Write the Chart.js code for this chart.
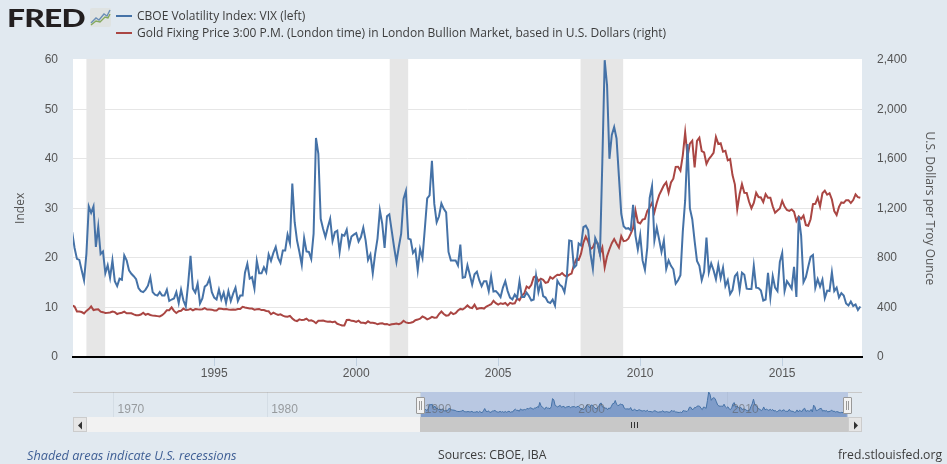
<!DOCTYPE html>
<html>
<head>
<meta charset="utf-8">
<title>CBOE VIX and Gold Fixing Price</title>
<script src="https://cdn.jsdelivr.net/npm/chart.js@4/dist/chart.umd.min.js"></script>
<style>
  html, body { margin: 0; padding: 0; background: #e1e9f0; }
  body { width: 947px; height: 464px; position: relative; overflow: hidden; font-family: "Open Sans", sans-serif; color: #333; }
  #main { position: absolute; left: 0; top: 0; }
  #nav { position: absolute; left: 73px; top: 392px; }
  .abs { position: absolute; white-space: nowrap; }
  #logo { left: 7px; top: 5px; font: 900 25px/25px Lato, sans-serif; color: #231f20; letter-spacing: -0.6px; transform: scaleX(1.27); transform-origin: left top; }
  .swatch { position: absolute; left: 116px; width: 16px; height: 2px; }
  .legend { left: 137px; font-size: 12px; line-height: 17px; color: #3c3c3c; }
  .foot { top: 446px; font-size: 12.2px; line-height: 18px; color: #3c3c3c; }
  .navlabel { position: absolute; top: 402px; font: 12px/14px "Liberation Sans", sans-serif; color: rgba(90,90,90,.55); }
  #navtop { position: absolute; left: 73px; top: 392px; width: 789px; height: 1px; background: #c8c8c8; }
  #track { position: absolute; left: 73px; top: 417px; width: 347px; height: 15px; background: #f2f2f2; }
  #thumb { position: absolute; left: 420px; top: 417px; width: 428px; height: 15px; background: #c8c8c8; }
  .arrow { position: absolute; top: 417px; width: 14px; height: 15px; background: #e6e6e6; box-sizing: border-box; border: 1px solid #ccc; }
  .arrow svg { position: absolute; left: 3px; top: 3px; }
  .grip { position: absolute; top: 422px; width: 1px; height: 6px; background: #333; }
  .handle { position: absolute; top: 397px; width: 7px; height: 15px; background: #f2f2f2; border: 1px solid #999; border-radius: 1px; }
  .handle i { position: absolute; top: 3px; width: 1px; height: 9px; background: #999; }
</style>
</head>
<body>
<canvas id="main" width="947" height="464"></canvas>
<div id="navtop"></div>
<canvas id="nav" width="775" height="25"></canvas>
<div id="track"></div>
<div id="thumb"></div>
<div class="arrow" style="left:73px"><svg width="7" height="9"><path d="M5 0.5V8.5L1 4.5Z" fill="#333"/></svg></div>
<div class="arrow" style="left:848px"><svg width="7" height="9"><path d="M2 0.5V8.5L6 4.5Z" fill="#333"/></svg></div>
<div class="grip" style="left:631px"></div><div class="grip" style="left:634px"></div><div class="grip" style="left:637px"></div>
<div id="navlabels"></div>
<div class="handle" style="left:416px"><i style="left:2px"></i><i style="left:4px"></i></div>
<div class="handle" style="left:843px"><i style="left:2px"></i><i style="left:4px"></i></div>

<div id="logo" class="abs">FRED</div>
<svg class="abs" style="left:90px;top:8px" width="21" height="19">
  <rect width="21" height="19" rx="2" fill="#dfe3e2"/>
  <path d="M1 15L6 10L9 12L14 6L17 8L20 2" fill="none" stroke="#6b8fb5" stroke-width="1.4"/>
  <path d="M1 17L6 13L10 14L15 9L18 10L20 6" fill="none" stroke="#85a95d" stroke-width="1.4"/>
</svg>
<div class="swatch" style="top:15px;background:#4572a7"></div>
<div class="swatch" style="top:32px;background:#aa4643"></div>
<div class="abs legend" style="top:7px">CBOE Volatility Index: VIX (left)</div>
<div class="abs legend" style="top:24px">Gold Fixing Price 3:00 P.M. (London time) in London Bullion Market, based in U.S. Dollars (right)</div>
<div class="abs foot" style="left:27px;color:#3f5f95;font-style:italic;font-size:12.7px">Shaded areas indicate U.S. recessions</div>
<div class="abs foot" style="left:438px">Sources: CBOE, IBA</div>
<div class="abs foot" style="left:838px">fred.stlouisfed.org</div>

<script>
// ---------- Data (monthly, Jan 1990 - Oct 2017) ----------
const vix = [
  25.2,22.0,19.8,19.6,17.5,15.5,20.8,30.4,29.1,30.4,22.2,26.3,
  20.8,21.3,16.9,18.5,16.0,19.5,15.3,14.3,15.8,15.6,20.5,19.5,
  17.5,16.8,16.3,15.7,13.9,13.3,13.1,13.6,14.4,16.1,13.1,12.6,
  12.4,13.1,12.4,12.4,13.6,11.3,11.6,11.8,13.1,10.9,13.6,11.4,
  10.2,14.8,20.4,13.8,13.0,14.8,10.8,11.8,14.2,14.6,15.8,13.1,
  12.0,11.6,13.6,11.6,13.0,10.9,13.3,11.3,12.8,14.0,11.3,12.4,
  12.4,17.0,18.8,15.8,16.1,13.8,19.4,16.9,16.9,18.1,17.1,20.7,
  19.4,21.0,22.2,20.0,19.0,21.5,21.5,24.7,23.0,35.0,27.2,23.5,
  21.2,18.6,24.0,21.3,21.2,19.8,24.9,44.2,41.0,27.9,25.9,24.2,
  26.2,27.9,23.4,25.2,25.5,21.2,24.7,24.5,25.7,22.3,24.3,24.7,
  25.0,23.3,24.2,26.1,23.5,19.6,20.7,16.9,20.8,23.9,29.6,26.9,
  22.0,28.4,28.8,25.5,22.2,19.2,22.2,24.9,31.9,33.5,23.9,23.7,
  21.0,21.7,17.5,21.8,20.0,25.9,32.0,32.6,39.6,30.9,27.2,28.4,
  31.0,29.9,29.2,21.2,19.5,19.5,19.5,18.5,22.7,16.0,16.1,18.5,
  16.6,14.6,16.7,17.2,15.5,14.3,15.3,15.3,13.3,16.3,13.2,13.3,
  12.8,12.1,14.0,15.3,13.3,12.0,11.6,12.6,11.9,15.3,12.1,12.1,
  13.0,12.3,11.4,11.6,16.4,13.1,15.0,12.3,12.0,11.1,10.9,11.6,
  10.4,15.4,14.6,14.2,13.1,16.2,23.5,23.4,18.0,18.5,22.9,22.5,
  26.2,26.5,25.6,20.8,17.8,24.0,22.9,20.7,39.4,59.9,54.8,40.0,
  44.8,46.4,44.1,36.5,28.9,26.4,25.9,26.0,25.6,30.7,24.5,21.7,
  24.6,19.5,17.6,22.1,32.1,34.5,23.5,26.1,23.7,21.2,23.5,17.8,
  19.5,18.4,17.7,14.8,15.5,16.5,25.3,31.6,43.0,30.0,27.8,23.4,
  19.4,18.4,15.5,17.2,24.1,17.1,18.9,17.5,15.7,18.6,15.9,18.0,
  14.3,15.5,12.7,13.5,16.3,16.9,13.5,17.0,16.6,13.8,13.7,13.7,
  18.4,14.0,13.9,13.4,11.4,11.6,17.0,12.0,16.3,14.0,13.3,19.2,
  21.0,13.3,15.3,14.6,13.8,18.2,12.1,28.4,24.5,15.1,16.1,18.2,
  20.2,20.6,14.0,15.7,14.2,15.6,11.9,13.4,13.3,17.1,13.3,14.0,
  12.0,12.9,12.4,10.8,10.4,11.2,10.3,10.6,9.5,10.2
];
const gold = [
  415,407,368,368,363,352,372,387,408,379,384,386,
  366,362,356,357,360,367,362,347,354,357,366,353,
  354,353,344,337,337,343,357,341,349,339,334,333,
  330,327,337,354,378,378,401,372,355,369,373,391,
  379,381,389,376,387,385,384,386,394,383,383,382,
  375,376,392,389,385,387,383,382,384,382,387,387,
  405,400,396,391,391,382,385,387,379,379,371,369,
  345,358,348,340,345,334,326,325,332,311,296,290,
  304,298,301,310,293,296,288,273,293,292,294,288,
  285,287,280,286,268,261,255,255,299,300,292,290,
  283,293,276,276,272,288,276,277,273,264,270,272,
  264,267,258,264,267,270,265,273,293,279,275,276,
  282,297,302,309,327,318,304,312,324,317,319,347,
  367,347,334,337,361,346,354,375,388,384,398,416,
  399,395,423,388,394,396,391,407,416,426,453,435,
  423,434,428,436,417,437,430,433,473,459,495,513,
  569,556,582,644,653,613,632,623,599,604,646,632,
  650,664,662,678,659,650,665,673,743,789,783,834,
  923,972,933,871,885,930,919,833,884,724,814,870,
  919,952,916,884,975,935,939,955,996,1040,1182,1088,
  1078,1109,1115,1180,1207,1244,1169,1246,1307,1346,1386,1410,
  1327,1409,1439,1535,1536,1505,1628,1813,1620,1722,1746,1531,
  1744,1770,1662,1651,1558,1598,1622,1648,1776,1720,1726,1657,
  1664,1588,1598,1469,1394,1192,1314,1396,1326,1324,1253,1201,
  1244,1326,1291,1288,1250,1315,1286,1285,1216,1164,1182,1199,
  1260,1214,1187,1180,1191,1172,1098,1135,1115,1142,1065,1060,
  1112,1234,1237,1286,1215,1322,1343,1310,1322,1272,1178,1146,
  1212,1248,1244,1266,1266,1243,1267,1312,1290,1285
];
const yearTicks = [1995, 2000, 2005, 2010, 2015];
const navTicks = [1970, 1980, 1990, 2000, 2010];
const recessionStart = [1990.5, 2001.18, 2007.9];
const recessionEnd = [1991.16, 2001.83, 2009.4];

const TEXT = "#555";
const TICK_FONT = { family: "'Liberation Sans', sans-serif", size: 12 };
const TITLE_FONT = { family: "'Open Sans', sans-serif", size: 12 };
const yearOf = i => 1990 + i / 12;
const vixPts = vix.map((v, i) => ({ x: yearOf(i), y: v }));
const goldPts = gold.map((v, i) => ({ x: yearOf(i), y: v }));

// ---------- Main chart ----------
const plotBack = {
  id: "plotBack",
  beforeDraw(c) {
    const { ctx, chartArea: a, scales } = c;
    const top = Math.floor(a.top), h = a.bottom - top;
    ctx.save();
    ctx.fillStyle = "#fff";
    ctx.fillRect(a.left, top, a.width, h);
    ctx.fillStyle = "#e6e6e6";
    recessionStart.forEach((s, i) => {
      const x0 = scales.x.getPixelForValue(s), x1 = scales.x.getPixelForValue(recessionEnd[i]);
      ctx.fillRect(x0, top, x1 - x0, h);
    });
    ctx.restore();
  }
};

new Chart(document.getElementById("main"), {
  type: "line",
  data: {
    datasets: [
      { label: "CBOE Volatility Index: VIX (left)", data: vixPts, yAxisID: "yL", borderColor: "#4572a7", borderWidth: 2, pointRadius: 0, tension: 0 },
      { label: "Gold Fixing Price 3:00 P.M. (London time) in London Bullion Market, based in U.S. Dollars (right)", data: goldPts, yAxisID: "yR", borderColor: "#aa4643", borderWidth: 2, pointRadius: 0, tension: 0 }
    ]
  },
  options: {
    responsive: false,
    animation: false,
    layout: { padding: { top: 59.7 } },
    plugins: { legend: { display: false }, tooltip: { enabled: false } },
    scales: {
      x: {
        type: "linear",
        min: 1990.028,
        max: 2017.81,
        afterBuildTicks: s => { s.ticks = yearTicks.map(v => ({ value: v })); },
        afterFit: s => { s.height = 107; },
        grid: { drawOnChartArea: false, color: "#c0d0e0", tickLength: 9 },
        border: { color: "#000", width: 2 },
        ticks: { callback: v => String(v), color: TEXT, font: TICK_FONT, autoSkip: false, maxRotation: 0, padding: 0 }
      },
      yL: {
        position: "left",
        min: 0, max: 60,
        afterFit: s => { s.width = 73; },
        grid: { color: c => c.tick.value === 60 ? "rgba(0,0,0,0)" : "#e6e6e6", drawTicks: false },
        border: { display: false },
        ticks: { stepSize: 10, color: TEXT, font: TICK_FONT, padding: 15 },
        title: { display: true, text: "Index", color: TEXT, font: TITLE_FONT, padding: { top: 13, bottom: 0 } }
      },
      yR: {
        position: "right",
        min: 0, max: 2400,
        afterFit: s => { s.width = 85; },
        grid: { drawOnChartArea: false, drawTicks: false },
        border: { display: false },
        ticks: { stepSize: 400, color: TEXT, font: TICK_FONT, padding: 15, callback: v => v.toLocaleString("en-US") },
        title: { display: true, text: "U.S. Dollars per Troy Ounce", color: TEXT, font: TITLE_FONT, padding: { top: 10, bottom: 0 } }
      }
    }
  },
  plugins: [plotBack]
});

// ---------- Navigator ----------
const navBack = {
  id: "navBack",
  beforeDraw(c) {
    const { ctx, chartArea: a, scales } = c;
    const x0 = scales.x.getPixelForValue(1990), x1 = a.right;
    ctx.save();
    ctx.fillStyle = "#b9c8e2";
    ctx.fillRect(x0, a.top, x1 - x0, a.height);
    ctx.restore();
  }
};

const navChart = new Chart(document.getElementById("nav"), {
  type: "line",
  data: {
    datasets: [
      { data: vixPts, borderColor: "#4572a7", borderWidth: 1, backgroundColor: "#7f9cc9", fill: "origin", pointRadius: 0, tension: 0 }
    ]
  },
  options: {
    responsive: false,
    animation: false,
    layout: { padding: 0 },
    plugins: { legend: { display: false }, tooltip: { enabled: false } },
    scales: {
      x: {
        type: "linear",
        min: 1967.36,
        max: 2017.82,
        afterBuildTicks: s => { s.ticks = navTicks.map(v => ({ value: v })); },
        afterFit: s => { s.height = 0; },
        grid: { color: "rgba(120,140,160,.12)", drawTicks: false },
        border: { display: false },
        ticks: { display: false }
      },
      y: { display: false, min: 0, max: 60 }
    }
  },
  plugins: [navBack]
});

// navigator year labels sit to the right of their grid line
navTicks.forEach(v => {
  const s = document.createElement("span");
  s.className = "navlabel";
  s.textContent = v;
  s.style.left = (73 + navChart.scales.x.getPixelForValue(v) + 4) + "px";
  document.getElementById("navlabels").append(s);
});
</script>
</body>
</html>
